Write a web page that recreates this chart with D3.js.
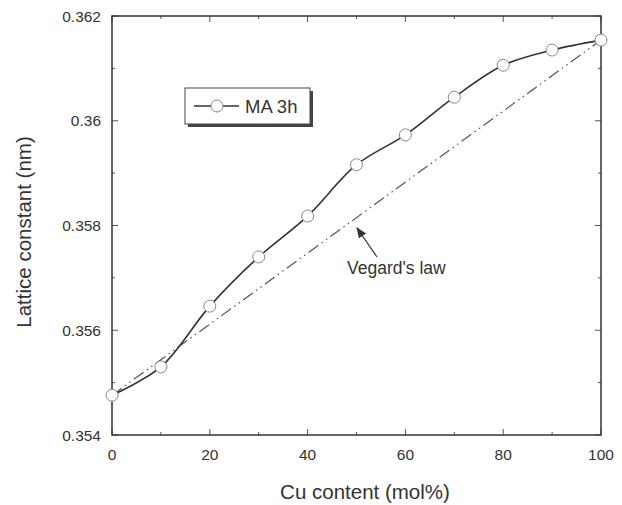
<!DOCTYPE html>
<html>
<head>
<meta charset="utf-8">
<script src="https://cdn.jsdelivr.net/npm/d3@7"></script>
<style>
  body { margin: 0; background: #fff; }
  text { font-family: "Liberation Sans", Arial, sans-serif; fill: #333; }
</style>
</head>
<body>
<svg id="chart" width="622" height="505"></svg>
<script>
// data
var cuContent = [0, 10, 20, 30, 40, 50, 60, 70, 80, 90, 100];
var latticeMA3h = [0.35476, 0.3553, 0.35646, 0.3574, 0.35818, 0.35916, 0.35973, 0.36045, 0.36106, 0.36135, 0.36154];
var vegardX = [0, 100];
var vegardY = [0.35476, 0.36154];
var xTicks = [0, 20, 40, 60, 80, 100];
var yTicks = [0.354, 0.356, 0.358, 0.36, 0.362];
var yTickLabels = ["0.354", "0.356", "0.358", "0.36", "0.362"];

var margin = {top: 16, right: 21, bottom: 70, left: 112},
    width = 622 - margin.left - margin.right,
    height = 505 - margin.top - margin.bottom;

var svg = d3.select("#chart");
var g = svg.append("g").attr("transform", "translate(" + margin.left + "," + margin.top + ")");

var x = d3.scaleLinear().domain([0, 100]).range([0, width]);
var y = d3.scaleLinear().domain([0.354, 0.362]).range([height, 0]);

var xMinor = d3.range(0, 101, 10);
var yMinor = d3.range(0, 9).map(function(i) { return 0.354 + i * 0.001; });

// ticks, inward on all four sides
function tickLines(sel, data, fn) {
  sel.selectAll("line").data(data).enter().append("line")
    .each(fn)
    .attr("stroke", "#555").attr("stroke-width", 1);
}
var tk = g.append("g");
tickLines(tk.append("g"), xMinor, function(d) {
  var len = xTicks.indexOf(d) >= 0 ? 6 : 3;
  d3.select(this).attr("x1", x(d)).attr("x2", x(d)).attr("y1", height).attr("y2", height - len);
});
tickLines(tk.append("g"), xMinor, function(d) {
  var len = xTicks.indexOf(d) >= 0 ? 6 : 3;
  d3.select(this).attr("x1", x(d)).attr("x2", x(d)).attr("y1", 0).attr("y2", len);
});
tickLines(tk.append("g"), yMinor, function(d, i) {
  var len = i % 2 == 0 ? 6 : 3;
  d3.select(this).attr("x1", 0).attr("x2", len).attr("y1", y(d)).attr("y2", y(d));
});
tickLines(tk.append("g"), yMinor, function(d, i) {
  var len = i % 2 == 0 ? 6 : 3;
  d3.select(this).attr("x1", width).attr("x2", width - len).attr("y1", y(d)).attr("y2", y(d));
});

// frame
g.append("rect").attr("width", width).attr("height", height)
  .attr("fill", "none").attr("stroke", "#333").attr("stroke-width", 1.5);

// tick labels
g.selectAll(".xl").data(xTicks).enter().append("text")
  .attr("x", function(d) { return x(d); }).attr("y", height + 25)
  .attr("text-anchor", "middle").attr("font-size", 15.5).text(function(d) { return d; });
g.selectAll(".yl").data(yTicks).enter().append("text")
  .attr("x", -11).attr("y", function(d) { return y(d) + 5.5; })
  .attr("text-anchor", "end").attr("font-size", 15.5)
  .text(function(d, i) { return yTickLabels[i]; });

// axis titles
svg.append("text").attr("x", 365).attr("y", 499).attr("text-anchor", "middle")
  .attr("font-size", 20.5).text("Cu content (mol%)");
svg.append("text").attr("transform", "translate(31,232) rotate(-90)")
  .attr("text-anchor", "middle").attr("font-size", 20.5).text("Lattice constant (nm)");

// Vegard's law line
var vegard = vegardX.map(function(d, i) { return [d, vegardY[i]]; });
g.append("path").datum(vegard)
  .attr("d", d3.line().x(function(d) { return x(d[0]); }).y(function(d) { return y(d[1]); }))
  .attr("fill", "none").attr("stroke", "#555").attr("stroke-width", 1.2)
  .attr("stroke-dasharray", "12,4,1.5,4,1.5,4");

// MA 3h series
var pts = cuContent.map(function(d, i) { return [d, latticeMA3h[i]]; });
g.append("path").datum(pts)
  .attr("d", d3.line().curve(d3.curveCatmullRom)
    .x(function(d) { return x(d[0]); }).y(function(d) { return y(d[1]); }))
  .attr("fill", "none").attr("stroke", "#333").attr("stroke-width", 1.6);
g.selectAll("circle.pt").data(pts).enter().append("circle")
  .attr("class", "pt")
  .attr("cx", function(d) { return x(d[0]); }).attr("cy", function(d) { return y(d[1]); })
  .attr("r", 6).attr("fill", "#fff").attr("stroke", "#888").attr("stroke-width", 1);

// legend
var lg = svg.append("g").attr("transform", "translate(185,88)");
lg.append("rect").attr("x", 3).attr("y", 3).attr("width", 125).attr("height", 36).attr("fill", "#444");
lg.append("rect").attr("width", 125).attr("height", 36).attr("fill", "#fff").attr("stroke", "#444").attr("stroke-width", 1);
lg.append("line").attr("x1", 9).attr("x2", 54).attr("y1", 18).attr("y2", 18).attr("stroke", "#333").attr("stroke-width", 1.4);
lg.append("circle").attr("cx", 32).attr("cy", 18).attr("r", 6).attr("fill", "#fff").attr("stroke", "#888");
lg.append("text").attr("x", 60).attr("y", 25).attr("font-size", 18.5).text("MA 3h");

// annotation
svg.append("defs").append("marker").attr("id", "arr")
  .attr("viewBox", "0 0 10 10").attr("refX", 9).attr("refY", 5)
  .attr("markerWidth", 9).attr("markerHeight", 9).attr("orient", "auto")
  .append("path").attr("d", "M0,1 L10,5 L0,9 Z").attr("fill", "#333");
svg.append("line").attr("x1", 377).attr("y1", 257).attr("x2", 357).attr("y2", 228)
  .attr("stroke", "#333").attr("stroke-width", 1.2).attr("marker-end", "url(#arr)");
svg.append("text").attr("x", 347).attr("y", 274).attr("font-size", 17.5).text("Vegard's law");
</script>
</body>
</html>
